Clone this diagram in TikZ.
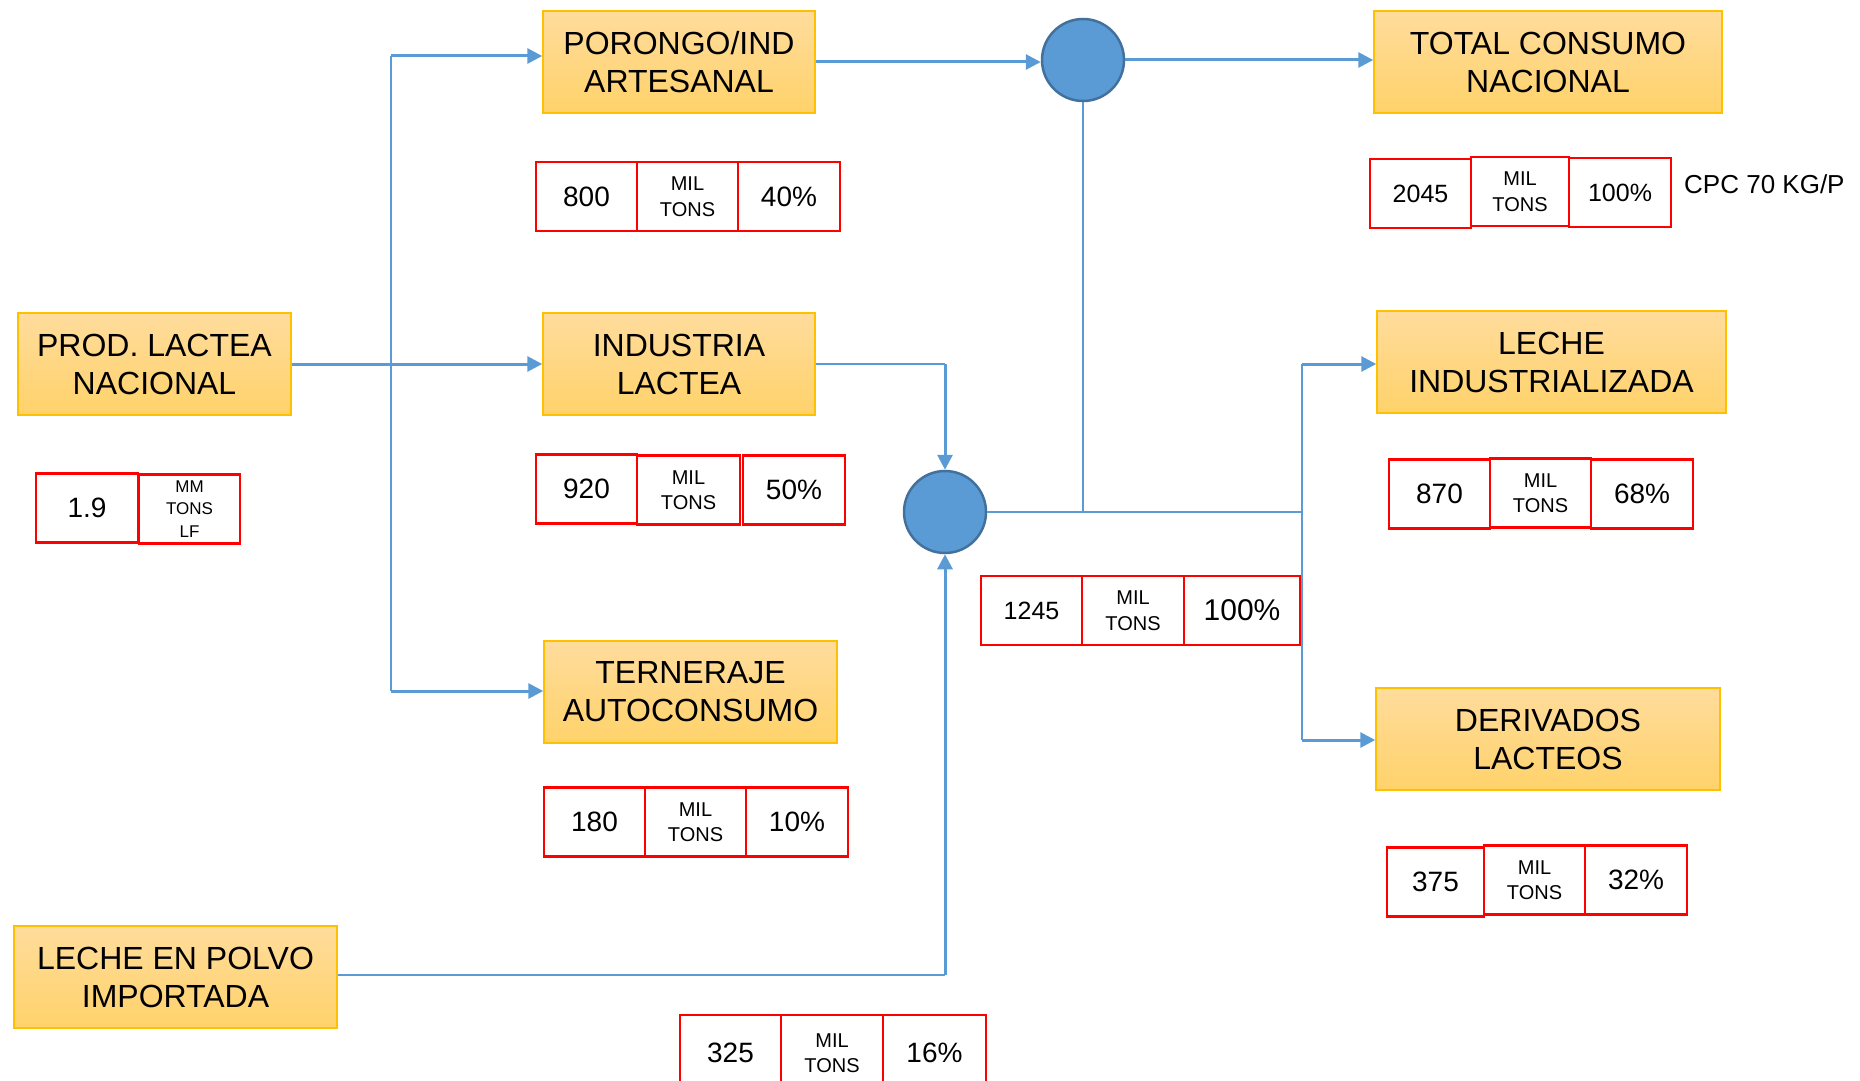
\documentclass[tikz,border=0pt]{standalone}
\usepackage{fontspec}
\setmainfont{Liberation Sans}
\usetikzlibrary{arrows.meta,calc}
\definecolor{lblue}{HTML}{5B9BD5}
\definecolor{cborder}{HTML}{41719C}
\definecolor{oborder}{HTML}{FFC000}
\definecolor{otop}{HTML}{FFDC9C}
\definecolor{obot}{HTML}{FFD26A}
\definecolor{rred}{HTML}{FF0000}
\newcommand{\boxfont}{\fontsize{32}{38}\selectfont}
\newcommand{\numfont}{\fontsize{28}{32}\selectfont}
\newcommand{\numsmall}{\fontsize{25}{30}\selectfont}
\newcommand{\unitfont}{\fontsize{20}{25.5}\selectfont}
\newcommand{\unitsmall}{\fontsize{17}{22.5}\selectfont}
\tikzset{
  obox/.style={rectangle, draw=oborder, line width=1.5pt, top color=otop, bottom color=obot,
    align=center, inner sep=0pt, font=\boxfont, minimum height=102pt},
  rbox/.style={rectangle, draw=rred, line width=2.5pt, fill=white, align=center, inner sep=0pt,
    font=\numfont},
  hub/.style={circle, draw=cborder, line width=2.5pt, fill=lblue, minimum size=82pt, inner sep=0pt},
  thickln/.style={draw=lblue, line width=3pt},
  thinln/.style={draw=lblue, line width=1.6pt},
  arr/.style={draw=lblue, line width=3pt, -{Triangle[length=15pt,width=15pt]}}
}
\begin{document}
\begin{tikzpicture}[x=1pt,y=-1pt]
\useasboundingbox (0,0) rectangle (1860,1081);
% orange boxes
\node[obox, minimum width=273pt] (prod) at (154.5,364) {PROD. LACTEA\\NACIONAL};
\node[obox, minimum width=272pt] (porongo) at (679,62) {PORONGO/IND\\ARTESANAL};
\node[obox, minimum width=272pt] (industria) at (679,364) {INDUSTRIA\\LACTEA};
\node[obox, minimum width=293pt] (terneraje) at (690.5,692) {TERNERAJE\\AUTOCONSUMO};
\node[obox, minimum width=348pt] (total) at (1548,62) {TOTAL CONSUMO\\NACIONAL};
\node[obox, minimum width=349pt] (lecheind) at (1551.5,362) {LECHE\\INDUSTRIALIZADA};
\node[obox, minimum width=344pt] (derivados) at (1548,739) {DERIVADOS\\LACTEOS};
\node[obox, minimum width=323pt] (polvo) at (175.5,977) {LECHE EN POLVO\\IMPORTADA};
% hubs
\node[hub] (c1) at (1083,60) {};
\node[hub] (c2) at (945,512) {};
% red value boxes
\tikzset{row/.style={rbox, minimum height=69pt}}
\node[row, minimum width=101pt] (r800a) at (586.5,196.5) {800};
\node[row, minimum width=101pt, font=\unitfont] (r800b) at (687.5,196.5) {MIL\\TONS};
\node[row, minimum width=102pt] (r800c) at (789,196.5) {40\%};
\node[row, minimum width=101pt, font=\numsmall] (r2045a) at (1420.5,193.5) {2045};
\node[row, minimum width=98pt, font=\unitfont] (r2045b) at (1520,191.5) {MIL\\TONS};
\node[row, minimum width=102pt, font=\numsmall] (r2045c) at (1620,192.5) {100\%};
\node[anchor=west, font=\fontsize{26}{30}\selectfont, inner sep=0pt] (cpc) at (1684,184) {CPC 70 KG/P};
\node[row, minimum width=102pt] (r19a) at (87,508) {1.9};
\node[row, minimum width=101pt, font=\unitsmall] (r19b) at (189.5,509) {MM\\TONS\\LF};
\node[row, minimum width=101pt] (r920a) at (586.5,489) {920};
\node[row, minimum width=103pt, font=\unitfont] (r920b) at (688.5,490) {MIL\\TONS};
\node[row, minimum width=102pt] (r920c) at (794,490) {50\%};
\node[row, minimum width=101pt] (r870a) at (1439.5,494) {870};
\node[row, minimum width=101pt, font=\unitfont] (r870b) at (1540.5,493) {MIL\\TONS};
\node[row, minimum width=102pt] (r870c) at (1642,494) {68\%};
\node[row, minimum width=101pt, font=\numsmall] (r1245a) at (1031.5,610.5) {1245};
\node[row, minimum width=102pt, font=\unitfont] (r1245b) at (1133,610.5) {MIL\\TONS};
\node[row, minimum width=116pt, font=\fontsize{30}{34}\selectfont] (r1245c) at (1242,610.5) {100\%};
\node[row, minimum width=101pt] (r180a) at (594.5,822) {180};
\node[row, minimum width=101pt, font=\unitfont] (r180b) at (695.5,822) {MIL\\TONS};
\node[row, minimum width=102pt] (r180c) at (797,822) {10\%};
\node[row, minimum width=97pt] (r375a) at (1435.5,882) {375};
\node[row, minimum width=101pt, font=\unitfont] (r375b) at (1534.5,880) {MIL\\TONS};
\node[row, minimum width=102pt] (r375c) at (1636,880) {32\%};
\node[rbox, minimum width=101pt, minimum height=76pt] (r325a) at (730.5,1053) {325};
\node[rbox, minimum width=102pt, minimum height=76pt, font=\unitfont] (r325b) at (832,1053) {MIL\\TONS};
\node[rbox, minimum width=103pt, minimum height=76pt] (r325c) at (934.5,1053) {16\%};
% connectors
\coordinate (sp1) at (391,56);
\coordinate (sp2) at (391,691);
\draw[thinln] (sp1) -- (sp2);
\draw[arr] (prod.east) -- (industria.west);
\draw[arr] (sp1) -- (sp1 -| porongo.west);
\draw[arr] (sp2) -- (sp2 -| terneraje.west);
\draw[arr] (porongo.east) -- (porongo.east -| c1.west);
\draw[arr] (c1.east) -- (c1.east -| total.west);
\draw[thinln] (c1.south) -- (c1.south |- c2.east);
\coordinate (k1) at (industria.east -| c2.north);
\draw[thinln] (industria.east) -- (k1);
\draw[arr] (k1) -- (c2.north);
\coordinate (j) at (1302,512);
\coordinate (j1) at (1302,364);
\coordinate (j2) at (1302,740);
\draw[thinln] (c2.east) -- (j);
\draw[thinln] (j1) -- (j2);
\draw[arr] (j1) -- (j1 -| lecheind.west);
\draw[arr] (j2) -- (j2 -| derivados.west);
\coordinate (k2) at (945,975);
\draw[thinln] (polvo.east |- k2) -- (k2);
\draw[arr] (k2) -- (c2.south);
\end{tikzpicture}
\end{document}
